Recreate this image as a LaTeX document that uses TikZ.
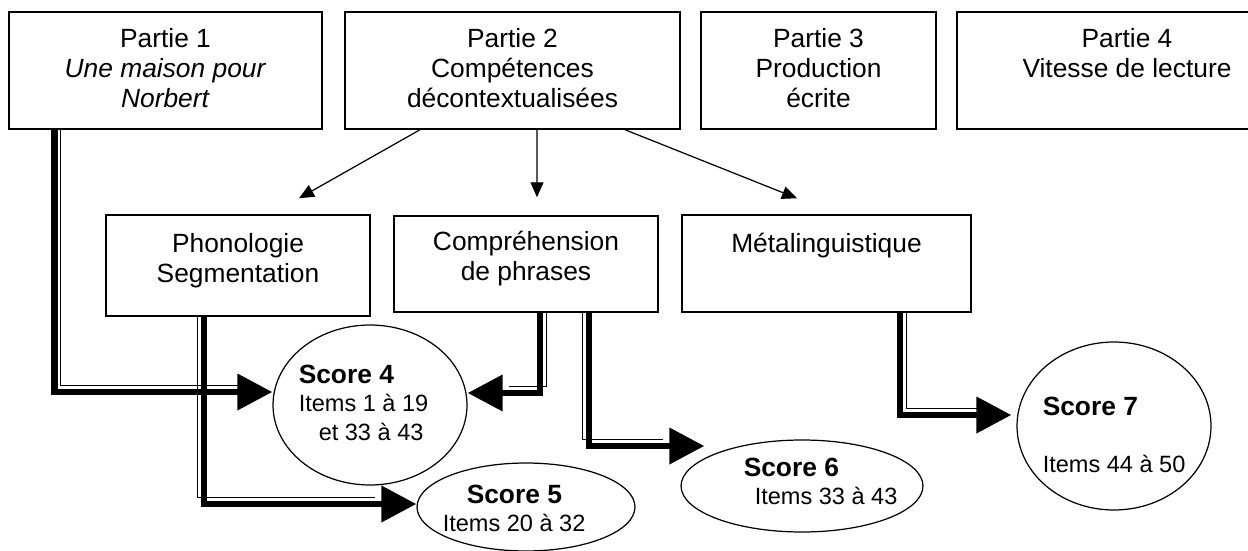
\documentclass[tikz,border=0pt]{standalone}
\usepackage{fontspec}
\setmainfont{Liberation Sans}
\usetikzlibrary{arrows.meta,calc,shapes.geometric}
\tikzset{
	partbox/.style={rectangle, draw, line width=0.85pt, inner sep=0pt, font=\fontsize{15}{17.2}\selectfont},
	scoreell/.style={ellipse, draw, line width=0.7pt, inner sep=0pt},
	scoretxt/.style={anchor=base west, inner sep=0pt, font=\fontsize{13.4}{16.5}\selectfont},
	thinarr/.style={-{Triangle[length=0.3cm, width=0.26cm]}, line width=0.7pt},
	dblarr/.style={line width=3.9pt, -{Triangle[length=0.7cm, width=0.7cm]},
		preaction={draw, -, line width=0.8pt, shorten <=0.13cm, shorten >=0.7cm, transform canvas={shift={#1}}}}
}
\newcommand{\boxlines}[4]{\parbox[c][#1][t]{#2}{\centering\rule{0pt}{#3}#4}}
\newcommand{\scoretitle}[1]{{\fontsize{15}{16.5}\selectfont\bfseries #1}}

\begin{document}
\begin{tikzpicture}[x=0.02cm, y=-0.02cm]
	\useasboundingbox (0,0) rectangle (1248,551);
	% the four parts
	\node[partbox] (part1) at (165.5,70.5) {\boxlines{2.34cm}{6.26cm}{0.7cm}{Partie 1\\\textit{Une maison pour}\\\textit{Norbert}}};
	\node[partbox] (part2) at (512.5,70.5) {\boxlines{2.34cm}{6.7cm}{0.7cm}{Partie 2\\Compétences\\décontextualisées}};
	\node[partbox] (part3) at (818.5,70.5) {\boxlines{2.34cm}{4.7cm}{0.7cm}{Partie 3\\Production\\écrite}};
	\node[partbox] (part4) at (1127,70.5) {\boxlines{2.34cm}{6.8cm}{0.7cm}{Partie 4\\Vitesse de lecture}};
	% sub-tests of part 2
	\node[partbox] (phono) at (238,265.5) {\boxlines{2.02cm}{5.28cm}{0.74cm}{Phonologie\\Segmentation}};
	\node[partbox] (compr) at (526,264) {\boxlines{1.92cm}{5.28cm}{0.68cm}{Compréhension\\de phrases}};
	\node[partbox] (meta) at (826.5,263.5) {\boxlines{1.94cm}{5.78cm}{0.74cm}{Métalinguistique}};
	% scores
	\node[scoreell, minimum width=3.88cm, minimum height=3.2cm] (score4) at (370,405) {};
	\node[scoreell, minimum width=4.36cm, minimum height=1.76cm] (score5) at (526,507) {};
	\node[scoreell, minimum width=4.84cm, minimum height=1.84cm] (score6) at (802,486) {};
	\node[scoreell, minimum width=3.88cm, minimum height=3.36cm] (score7) at (1114,426) {};
	\node[scoretxt] (score4txt) at ($(score4.west)+(26,-22)$) {\parbox[t]{3.2cm}{\raggedright\scoretitle{Score 4}\\Items 1 à 19\\\hspace*{0.4cm}et 33 à 43}};
	\node[scoretxt] (score5txt) at ($(score5.west)+(26,-4)$) {\parbox[t]{3.2cm}{\raggedright\hspace*{0.48cm}\scoretitle{Score 5}\\Items 20 à 32}};
	\node[scoretxt] (score6txt) at ($(score6.west)+(63,-10)$) {\parbox[t]{3.2cm}{\raggedright\scoretitle{Score 6}\\\hspace*{0.22cm}Items 33 à 43}};
	\node[scoretxt] (score7txt) at ($(score7.west)+(26,-11)$) {\parbox[t]{3.2cm}{\raggedright\scoretitle{Score 7}\\[0.58cm]Items 44 à 50}};
	% part 2 -> sub-tests
	\draw[thinarr] ($(part2.south)+(-92.5,0)$) -- ($(phono.north)+(61,-16)$);
	\draw[thinarr] ($(part2.south)+(24.5,0)$) -- ($(compr.north)+(11,-18)$);
	\draw[thinarr] ($(part2.south)+(112.5,0)$) -- ($(meta.north)+(-29.5,-16)$);
	% double arrows to the scores
	\draw[dblarr={(0.13cm,0.13cm)}] ($(part1.south west)+(46,0)$) |- ($(score4.west)+(0,-13)$);
	\draw[dblarr={(-0.13cm,0.13cm)}] ($(phono.south)+(-34,0)$) |- ($(score5.west)+(0,-3)$);
	\draw[dblarr={(0.13cm,0.13cm)}] ($(compr.south)+(14,0)$) |- ($(score4.east)+(0,-12)$);
	\draw[dblarr={(-0.13cm,0.13cm)}] ($(compr.south)+(63,0)$) |- ($(score6.west)+(24,-40)$);
	\draw[dblarr={(0.13cm,0.13cm)}] ($(meta.south)+(73.5,0)$) |- ($(score7.west)+(-5,-11)$);
\end{tikzpicture}
\end{document}
